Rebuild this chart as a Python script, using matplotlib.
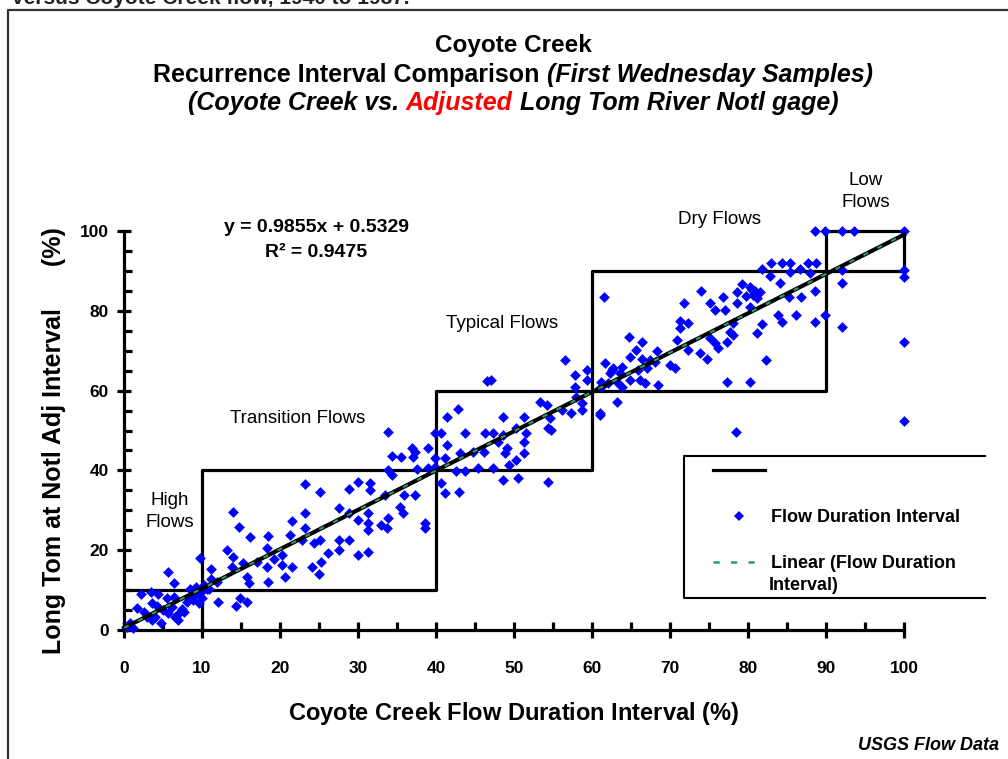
import matplotlib
matplotlib.use('agg')
import matplotlib.pyplot as plt
from matplotlib.lines import Line2D

plt.rcParams['font.family'] = ['Liberation Sans', 'DejaVu Sans']
plt.rcParams['mathtext.fontset'] = 'custom'
plt.rcParams['mathtext.rm'] = 'Liberation Sans:bold'
plt.rcParams['mathtext.it'] = 'Liberation Sans:bold:italic'
plt.rcParams['mathtext.bf'] = 'Liberation Sans:bold'

W, H = 1008, 759

# ---- values (percent) ----
coyote_interval = [
    # high flows
    0.4, 0.8, 1.2, 1.7, 2.2, 2.5, 2.9, 3.5, 3.6, 3.6, 4.0, 4.2, 4.4, 4.7, 5.0,
    5.5, 5.7, 5.7, 6.2, 6.4, 6.4, 6.6, 6.9, 7.0, 7.4, 7.7, 8.1, 8.5, 8.7, 8.9,
    9.0, 9.2, 9.4, 9.6, 9.7, 9.9, 10.0, 10.2, 10.6, 10.9, 11.1, 11.1, 11.9,
    12.1, 13.8, 14.4, 14.9, 15.3, 15.8, 15.8, 16.0, 17.1, 18.3, 18.4, 20.3,
    20.7, 21.5, 24.1, 25.0, 25.2,
    # transition flows
    13.2, 14.0, 14.0, 14.8, 16.2, 18.3, 18.4, 19.2, 20.2, 21.3, 21.5, 22.8,
    23.2, 23.2, 23.2, 24.3, 25.1, 25.1, 26.2, 27.5, 27.5, 27.5, 28.8, 28.8,
    28.8, 30.0, 30.0, 30.0, 31.3, 31.3, 31.3, 31.3, 31.5, 31.5, 33.0,
    33.5, 33.7, 33.8, 33.9, 33.9, 34.3, 34.4, 35.4, 35.5, 35.8, 35.9, 36.9,
    37.1, 37.3, 37.3, 37.5, 38.6, 38.6, 39.0, 39.0, 39.9, 39.9, 39.9, 40.7,
    40.7, 41.2, 41.2, 41.4, 41.4,
    # typical flows
    42.6, 42.8, 42.9, 43.1, 43.7, 43.7, 44.8, 45.4, 46.1, 46.3, 46.6, 47.1,
    47.3, 47.3, 48.0, 48.6, 48.6, 48.6, 48.8, 49.1, 49.3, 50.3, 50.3, 50.5,
    51.3, 51.3, 51.3, 51.6, 53.3, 54.2, 54.3, 54.4, 54.6, 54.8, 56.1, 56.5,
    57.3, 57.8, 57.8, 58.0, 58.7, 58.7, 59.3, 59.3, 61.0, 61.2, 61.7, 62.5,
    63.2, 63.2,
    # dry flows
    61.6, 74.0, 76.8, 79.2, 78.6, 80.5, 81.1, 71.8, 75.1, 78.6, 75.8, 77.1,
    80.3, 71.3, 72.3, 71.3, 77.7, 78.1, 81.1, 64.8, 66.4, 65.6, 70.9, 72.3,
    75.1, 75.8, 76.2, 73.8, 74.7, 68.3, 64.9, 66.4, 67.4, 68.1, 62.7, 63.8,
    62.3, 63.6, 65.9, 67.0, 70.0, 70.6, 61.2, 62.1, 64.9, 66.2, 66.8, 68.5,
    63.8, 77.3, 80.2, 61.0,
    # low flows
    88.6, 89.9, 92.1, 93.6, 100.0, 83.0, 84.3, 85.4, 87.7, 88.7, 81.8, 85.4,
    86.7, 87.9, 92.1, 100.0, 100.0, 92.1, 82.8, 84.1, 88.6, 80.9, 85.3, 86.8,
    83.9, 86.2, 89.9, 84.3, 88.6, 81.8, 92.1, 77.3, 78.1, 82.3, 100.0, 78.5,
    100.0, 80.6, 81.6, 79.8, 80.2,
]
notl_interval = [
    0.8, 1.8, 0.5, 5.4, 8.9, 4.5, 3.3, 9.6, 6.8, 2.5, 3.3, 6.0, 8.9, 1.7, 5.0,
    7.9, 14.6, 4.2, 5.8, 11.7, 8.3, 3.3, 2.5, 4.2, 5.3, 4.6, 7.1, 10.4, 8.3, 7.5,
    9.8, 10.8, 9.2, 6.7, 18.0, 9.6, 7.9, 11.3, 10.4, 10.2, 15.2, 12.7, 12.1,
    7.1, 15.9, 6.0, 7.9, 16.7, 13.4, 7.1, 11.9, 17.1, 15.9, 12.1, 16.3,
    13.4, 15.9, 15.9, 14.0, 17.1,
    20.0, 18.4, 29.6, 25.9, 23.2, 20.5, 23.6, 17.7, 18.8, 23.8, 27.4, 22.6,
    36.6, 29.2, 25.5, 21.7, 34.7, 22.6, 19.4, 30.5, 22.6, 20.0, 35.3, 29.2,
    22.6, 37.2, 27.6, 18.8, 29.2, 26.7, 25.1, 19.6, 36.8, 35.1, 26.3,
    33.8, 25.5, 49.7, 40.1, 28.0, 38.8, 43.6, 30.9, 43.4, 29.2, 33.8, 45.5,
    43.4, 44.7, 33.8, 40.3, 26.7, 25.5, 45.5, 40.6, 49.3, 43.0, 40.9, 49.3,
    36.8, 43.0, 34.3, 53.5, 46.4,
    39.8, 55.3, 34.7, 44.3, 49.3, 39.8, 44.7, 40.5, 44.7, 49.3, 62.3, 62.7,
    49.3, 40.5, 47.2, 53.5, 48.9, 37.6, 44.3, 45.5, 41.4, 50.6, 42.6, 38.0,
    53.5, 47.2, 44.3, 49.3, 57.2, 56.4, 37.2, 50.6, 53.1, 50.1, 55.1, 67.7,
    54.3, 63.9, 61.0, 58.5, 56.8, 55.1, 65.2, 62.7, 53.9, 61.0, 66.8, 65.2,
    62.2, 57.2,
    83.4, 85.0, 83.4, 86.7, 84.8, 85.2, 83.1, 81.9, 81.9, 81.9, 80.2, 80.2,
    81.0, 77.5, 76.9, 75.6, 74.8, 73.9, 74.4, 73.4, 72.3, 70.2, 72.7, 70.2,
    73.1, 71.9, 70.6, 69.3, 68.0, 69.8, 68.5, 68.0, 67.7, 67.2, 65.6, 66.0,
    64.3, 64.3, 65.2, 65.6, 66.4, 65.6, 62.2, 61.8, 62.7, 62.7, 61.8, 61.4,
    61.0, 62.2, 62.2, 54.3,
    100.0, 100.0, 100.0, 100.0, 100.0, 91.9, 91.9, 91.9, 91.9, 91.9, 90.4, 89.8,
    90.4, 89.4, 90.2, 90.2, 88.5, 86.9, 88.7, 86.9, 85.0, 85.0, 83.4, 83.4,
    78.9, 78.9, 78.9, 77.3, 77.3, 76.7, 75.9, 72.3, 76.9, 67.7, 72.3, 49.5,
    52.4, 84.0, 84.6, 83.8, 86.0,
]
fit_slope = 0.9855
fit_intercept = 0.5329
fit_r2 = 0.9475
class_bounds = [0, 10, 40, 60, 90, 100]
x_ticks = [0, 10, 20, 30, 40, 50, 60, 70, 80, 90, 100]
y_ticks = [0, 20, 40, 60, 80, 100]
legend_labels = [' ', 'Flow Duration Interval', 'Linear (Flow Duration']


def fig_xy(x, y):
    # pixel position (from top-left) -> figure fraction
    return x / W, 1 - y / H


def centered_runs(fig, y, runs, size, cx=513):
    renderer = fig.canvas.get_renderer()
    texts = []
    for s, style, color in runs:
        texts.append(fig.text(0, 1 - y / H, s, fontsize=size, fontweight='bold',
                              fontstyle=style, color=color, va='baseline'))
    widths = [t.get_window_extent(renderer).width for t in texts]
    gap = 0.278 * size * 100 / 72
    x = cx - (sum(widths) + gap * (len(texts) - 1)) / 2
    for t, w in zip(texts, widths):
        t.set_x(x / W)
        x += w + gap


fig = plt.figure(figsize=(W / 100, H / 100), dpi=100)
ax = fig.add_axes([124 / W, 1 - 630 / H, 780 / W, 399 / H])
ax.set_xlim(0, 100)
ax.set_ylim(0, 100)
ax.patch.set_alpha(0)

# flow class boxes (two staircases)
b = class_bounds
lo_x = [b[0], b[2], b[2], b[4], b[4], b[5]]
lo_y = [b[1], b[1], b[3], b[3], b[5], b[5]]
ax.plot(lo_x, lo_y, color='black', lw=2.3, zorder=2, clip_on=False)
ax.plot(lo_y, lo_x, color='black', lw=2.3, zorder=2, clip_on=False)

ax.scatter(coyote_interval, notl_interval, marker='D', s=30, c='#0000ff',
           linewidths=0, zorder=3, clip_on=False)

fit_x = [0, 100]
fit_y = [fit_slope * v + fit_intercept for v in fit_x]
ax.plot(fit_x, fit_y, color='black', lw=3, zorder=4, clip_on=False)
ax.plot(fit_x, fit_y, color='#339966', lw=1.5, ls=(0, (2.5, 5)), zorder=5,
        clip_on=False)

# axes styling
for side in ['top', 'right']:
    ax.spines[side].set_visible(False)
for side in ['left', 'bottom']:
    ax.spines[side].set_linewidth(2.3)
ax.set_xticks(x_ticks)
ax.set_xticks([v + 5 for v in x_ticks[:-1]], minor=True)
ax.set_yticks(y_ticks)
ax.set_yticks([v for v in range(5, 100, 5) if v % 20], minor=True)
ax.tick_params(axis='x', which='major', direction='inout', length=12, width=2.3, pad=16,
               labelsize=12.5)
ax.tick_params(axis='y', which='major', direction='inout', length=10, width=2.3, pad=6,
               labelsize=12.5)
ax.tick_params(which='minor', direction='in', length=6, width=2.3)
for lab in ax.get_xticklabels() + ax.get_yticklabels():
    lab.set_fontweight('bold')

ax.set_xlabel(r'Coyote Creek Flow Duration Interval $\mathit{(\%)}$', fontsize=17,
              fontweight='bold', va='baseline')
ax.xaxis.set_label_coords(0.5, (630 - 720) / 399)
ax.set_ylabel('Long Tom at Notl Adj Interval      (%)', fontsize=18, fontweight='bold',
              va='center')
ax.yaxis.set_label_coords((54 - 124) / 780, (630 - 441) / 399)

# flow class names and fit equation
ax.text(5.9, 31.3, 'High', ha='center', fontsize=13.5)
ax.text(5.9, 25.8, 'Flows', ha='center', fontsize=13.5)
ax.text(22.3, 51.9, 'Transition Flows', ha='center', fontsize=13.5)
ax.text(48.5, 75.7, 'Typical Flows', ha='center', fontsize=13.5)
ax.text(76.3, 101.8, 'Dry Flows', ha='center', fontsize=13.5)
ax.text(95.1, 111.5, 'Low', ha='center', fontsize=13.5)
ax.text(95.1, 106.0, 'Flows', ha='center', fontsize=13.5)
ax.text(24.7, 99.7, 'y = %.4fx + %.4f' % (fit_slope, fit_intercept), ha='center',
        fontsize=14, fontweight='bold')
ax.text(24.6, 93.5, 'R² = %.4f' % fit_r2, ha='center', fontsize=14, fontweight='bold')

# legend
handles = [Line2D([], [], color='black', lw=2.3),
           Line2D([], [], marker='D', color='#0000ff', ls='none', markersize=5,
                  markeredgewidth=0),
           Line2D([], [], color='#339966', lw=1.8, ls=(0, (2.5, 4.5)))]
fig.legend(handles, legend_labels, loc='upper left', bbox_to_anchor=fig_xy(713, 463),
           frameon=False, borderpad=0, borderaxespad=0, handlelength=2.9,
           handletextpad=0.3, labelspacing=1.62, prop={'weight': 'bold', 'size': 13})
fig.text(*fig_xy(769, 585), 'Interval)', fontsize=13, fontweight='bold', va='center')
lx, ly = zip(*[fig_xy(985, 456), fig_xy(684, 456), fig_xy(684, 598), fig_xy(985, 598)])
fig.add_artist(Line2D(lx, ly, color='black', lw=1.5, transform=fig.transFigure))

# page border and clipped caption
bx, by = zip(*[fig_xy(8, H + 5), fig_xy(8, 9.5), fig_xy(W + 5, 9.5)])
fig.add_artist(Line2D(bx, by, color='#333333', lw=1.6, transform=fig.transFigure))
fig.text(*fig_xy(12, 4), 'versus Coyote Creek flow, 1940 to 1987.', fontsize=15,
         fontweight='bold', color='#222222', va='baseline')

# titles
fig.text(*fig_xy(513, 52), 'Coyote Creek', fontsize=17.5, fontweight='bold',
         ha='center', va='baseline')
centered_runs(fig, 82, [('Recurrence Interval Comparison', 'normal', 'black'),
                        ('(First Wednesday Samples)', 'italic', 'black')], 18)
centered_runs(fig, 110, [('(Coyote Creek vs.', 'italic', 'black'),
                         ('Adjusted', 'italic', '#ff0000'),
                         ('Long Tom River Notl gage)', 'italic', 'black')], 18)
fig.text(*fig_xy(999, 750), 'USGS Flow Data', fontsize=13, fontweight='bold',
         fontstyle='italic', ha='right', va='baseline')

fig.savefig('out.png', dpi=100)
